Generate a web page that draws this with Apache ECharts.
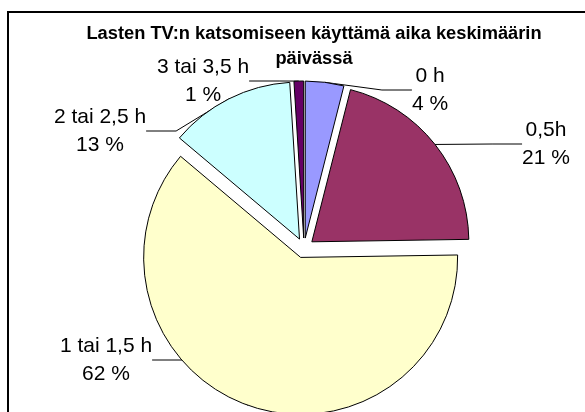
<!DOCTYPE html>
<html>
<head>
<meta charset="utf-8">
<script src="https://cdn.jsdelivr.net/npm/echarts@6/dist/echarts.min.js"></script>
<style>
html,body{margin:0;padding:0;background:#fff;}
#c{width:585px;height:412px;}
</style>
</head>
<body>
<div id="c"></div>
<script>
const categories = ['0 h', '0,5h', '1 tai 1,5 h', '2 tai 2,5 h', '3 tai 3,5 h'];
const values = [4, 21, 62, 13, 1];
const colors = ['#9999FF', '#993366', '#FFFFCC', '#CCFFFF', '#660066'];
const labelPos = [[430, 90], [546, 144], [106, 360], [100, 131], [203, 81]];

const CX = 304, CY = 248, R = 157, EXPLODE = 10;
const total = values.reduce((a, b) => a + b, 0);

// one series per slice so that each slice can be pulled out from the centre
const series = [];
let cum = 0;
values.forEach((v, i) => {
  const mid = (cum + v / 2) / total * 2 * Math.PI; // clockwise from 12 o'clock
  cum += v;
  const cx = CX + Math.sin(mid) * EXPLODE;
  const cy = CY - Math.cos(mid) * EXPLODE;
  series.push({
    type: 'pie',
    center: [cx, cy],
    radius: R,
    startAngle: 90,
    clockwise: true,
    silent: true,
    avoidLabelOverlap: false,
    emphasis: {disabled: true},
    label: {
      show: false,
      formatter: p => p.name + '\n' + p.value + ' %',
      fontFamily: 'Liberation Sans, Arial, sans-serif',
      fontSize: 21,
      lineHeight: 28,
      color: '#000',
      align: 'center'
    },
    labelLine: {show: false, lineStyle: {color: '#000', width: 1}},
    labelLayout: function (params) {
      const p = labelPos[params.dataIndex];
      return {x: p[0], y: p[1], align: 'center', verticalAlign: 'middle'};
    },
    data: categories.map((n, j) => j === i ? {
      name: n,
      value: values[j],
      itemStyle: {color: colors[j], borderColor: '#000', borderWidth: 1},
      label: {show: true, position: 'outside'},
      labelLine: {show: true}
    } : {
      name: n,
      value: values[j],
      itemStyle: {color: 'rgba(0,0,0,0)', borderWidth: 0},
      label: {show: false},
      labelLine: {show: false}
    })
  });
});

const chart = echarts.init(document.getElementById('c'), null, {renderer: 'canvas'});
chart.setOption({
  animation: false,
  backgroundColor: '#fff',
  title: {
    text: 'Lasten TV:n katsomiseen käyttämä aika keskimäärin\npäivässä',
    left: 309,
    top: 16,
    textAlign: 'center',
    textStyle: {
      fontFamily: 'Liberation Sans, Arial, sans-serif',
      fontWeight: 'bold',
      fontSize: 18.3,
      lineHeight: 25,
      color: '#000'
    }
  },
  graphic: [{
    type: 'rect',
    shape: {x: 8, y: 12, width: 620, height: 440},
    style: {fill: 'none', stroke: '#000', lineWidth: 2},
    z: 100,
    silent: true
  }],
  series: series
});
</script>
</body>
</html>
